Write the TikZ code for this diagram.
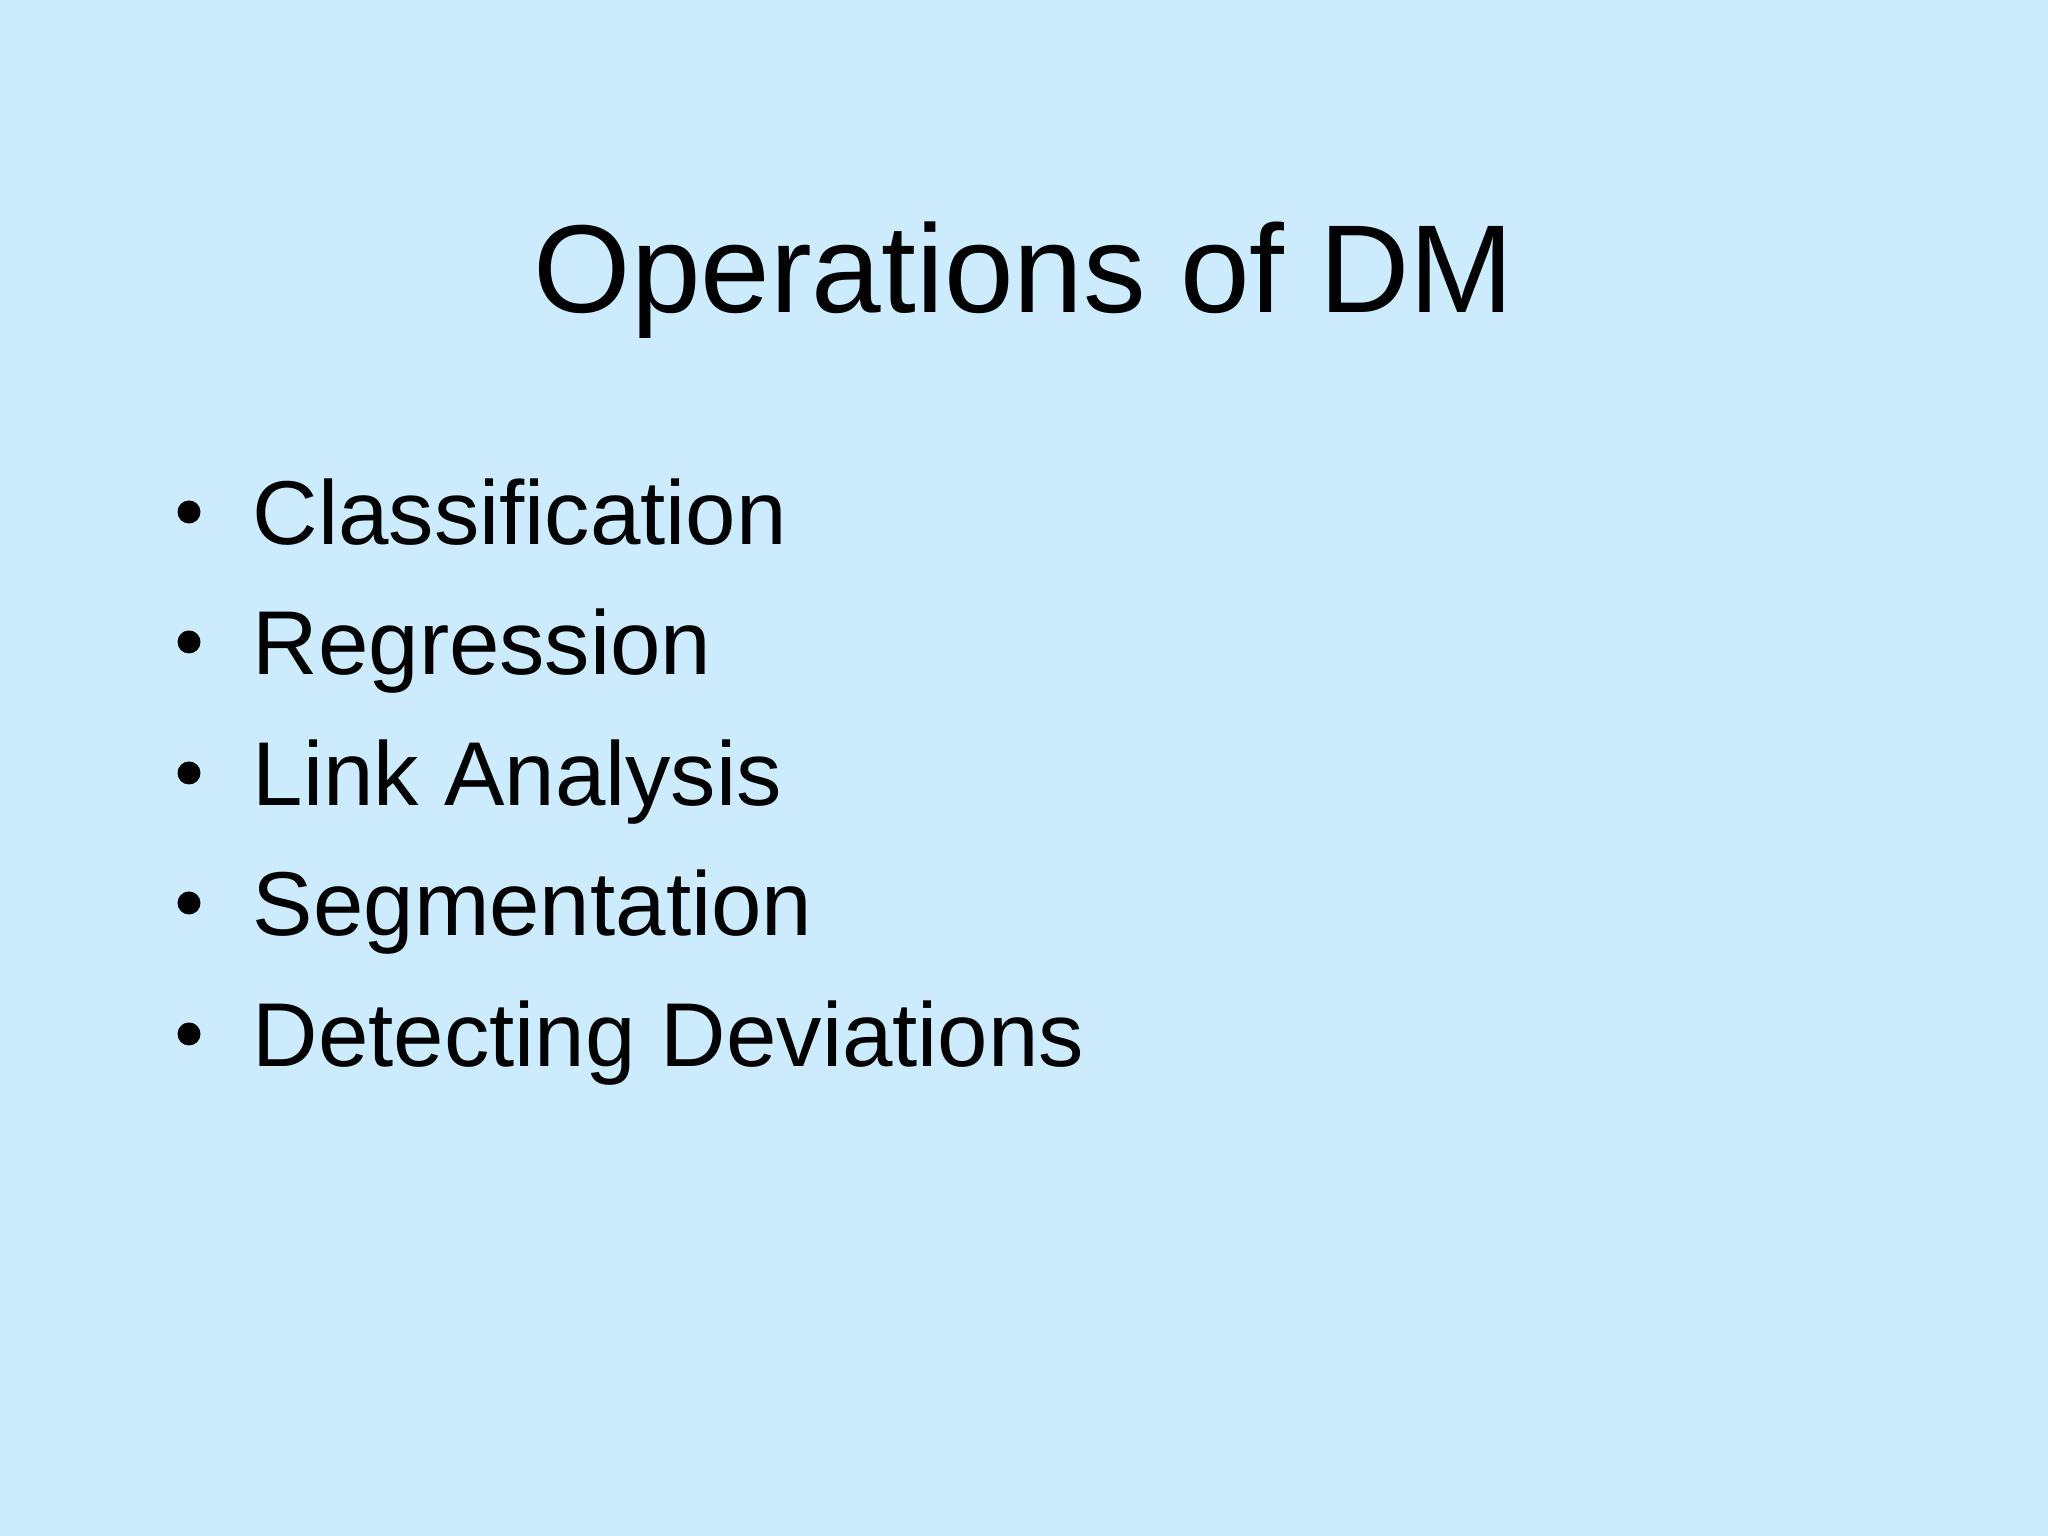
\documentclass[tikz,border=0pt]{standalone}
\usepackage{fontspec}
\setmainfont{Liberation Sans}
\definecolor{bg}{HTML}{CCEBFC}
\begin{document}
\begin{tikzpicture}[x=1cm,y=1cm,
  item/.style={anchor=base west,inner sep=0pt,font=\fontsize{25.8}{31}\selectfont},
  bul/.style={circle,fill=black,inner sep=0pt,minimum size=0.23cm}]
\fill[bg] (0,0) rectangle (20.48,15.36);
\useasboundingbox (0,0) rectangle (20.48,15.36);
\node[anchor=base,inner sep=0pt,font=\fontsize{35.6}{42}\selectfont] (title) at (10.24,15.36-3.13) {Operations of DM};
\foreach \t/\y [count=\i] in {Classification/5.45,Regression/6.75,Link Analysis/8.06,Segmentation/9.36,Detecting Deviations/10.67}{
  \node[item] (it\i) at (2.52,15.36-\y) {\t};
  \node[bul] (b\i) at (1.89,15.36-\y+0.33) {};
}
\end{tikzpicture}
\end{document}
